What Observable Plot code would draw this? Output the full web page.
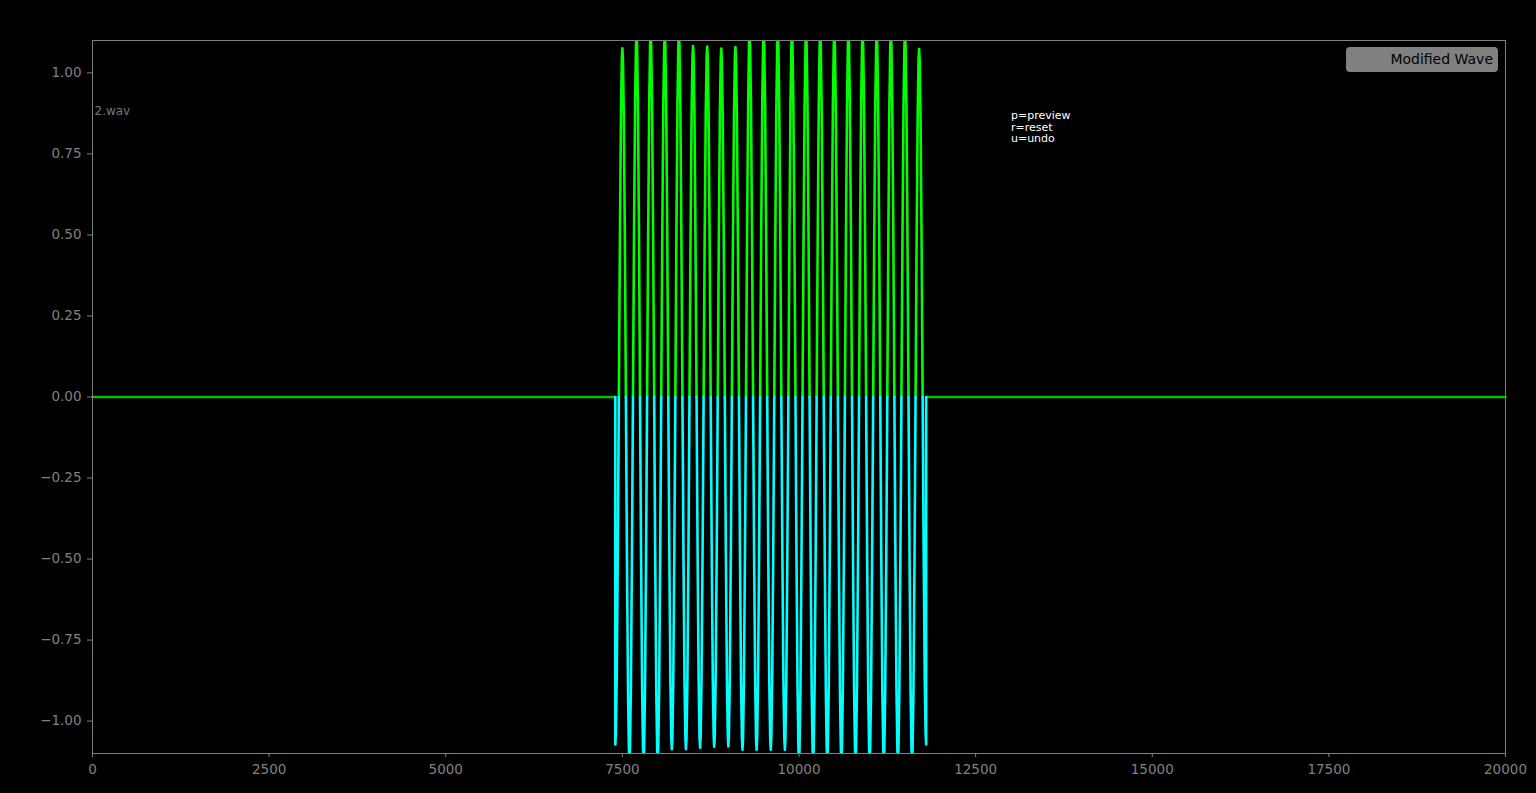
<!DOCTYPE html>
<html><head><meta charset="utf-8">
<script src="https://cdn.jsdelivr.net/npm/d3@7"></script>
<script src="https://cdn.jsdelivr.net/npm/@observablehq/plot@0.6"></script>
<style>
html,body{margin:0;padding:0;background:#000;overflow:hidden}
#wrap{position:relative;width:1536px;height:793px}
#legend{position:absolute;z-index:2;left:1346px;top:47px;width:152px;height:25px;background:#808080;border-radius:4px;box-sizing:border-box;font:14px "DejaVu Sans";color:#000;text-align:right;padding-right:5px;line-height:24px}
</style></head><body><div id="wrap"><div id="legend">Modified Wave</div></div>
<script>
// ---- data ----
const waveStart = 7400, waveEnd = 11800, halfCycle = 100;
const greenPeakX = [7500,7700,7900,8100,8300,8500,8700,8900,9100,9300,9500,9700,9900,10100,10300,10500,10700,10900,11100,11300,11500,11700];
const greenPeakY = [1.076,1.12,1.12,1.12,1.12,1.083,1.081,1.075,1.080,1.12,1.12,1.12,1.12,1.12,1.12,1.12,1.12,1.12,1.12,1.12,1.12,1.074];
const cyanTroughX = [7400,7600,7800,8000,8200,8400,8600,8800,9000,9200,9400,9600,9800,10000,10200,10400,10600,10800,11000,11200,11400,11600,11800];
const cyanTroughY = [-1.072,-1.12,-1.12,-1.12,-1.087,-1.087,-1.082,-1.079,-1.078,-1.088,-1.088,-1.088,-1.088,-1.12,-1.12,-1.12,-1.12,-1.12,-1.12,-1.12,-1.12,-1.12,-1.072];
const pulseProfile = [[-1,0],[-0.7,0.45],[-0.4,0.81],[-0.15,0.97],[0,1],[0.15,0.97],[0.4,0.81],[0.7,0.45],[1,0]];
const xTicks = [0,2500,5000,7500,10000,12500,15000,17500,20000];
const yTicks = [-1,-0.75,-0.5,-0.25,0,0.25,0.5,0.75,1];
const fileLabel = "2.wav";
const helpText = "p=preview\nr=reset\nu=undo";

// ---- build line rows ----
const greenRows = [];
greenPeakX.forEach((px, i) => {
  pulseProfile.forEach(([t, f]) => greenRows.push({id: "g" + i, x: px + t * halfCycle / 2, y: f * greenPeakY[i]}));
});
const cyanRows = [];
cyanTroughX.forEach((px, i) => {
  const pts = [];
  pulseProfile.forEach(([t, f]) => {
    const x = px + t * halfCycle / 2;
    if (x >= waveStart && x <= waveEnd) pts.push({id: "c" + i, x, y: f * cyanTroughY[i]});
  });
  if (px === waveStart) pts.unshift({id: "c" + i, x: waveStart, y: 0});
  if (px === waveEnd) pts.push({id: "c" + i, x: waveEnd, y: 0});
  cyanRows.push(...pts);
});
const flatRows = [
  {id: "L", x: 0, y: 0}, {id: "L", x: waveStart, y: 0},
  {id: "R", x: waveEnd, y: 0}, {id: "R", x: 20000, y: 0}
];

const fmtY = d => d.toFixed(2).replace("-", "\u2212");

const chart = Plot.plot({
  width: 1536, height: 793,
  marginLeft: 92, marginRight: 31, marginTop: 40, marginBottom: 40,
  style: {background: "#000", fontFamily: "DejaVu Sans", fontSize: "13.5px", color: "#808080"},
  x: {domain: [0, 20000]},
  y: {domain: [-1.1, 1.1]},
  marks: [
    Plot.line(flatRows, {x: "x", y: "y", z: "id", stroke: "#00c000", strokeWidth: 2.5}),
    Plot.line(greenRows, {x: "x", y: "y", z: "id", stroke: "#00ff00", strokeWidth: 2.6, clip: true}),
    Plot.line(cyanRows, {x: "x", y: "y", z: "id", stroke: "#00ffff", strokeWidth: 2.6, clip: true}),
    Plot.frame({stroke: "#808080"}),
    Plot.axisY({ticks: yTicks, tickFormat: fmtY, tickSize: 5, tickPadding: 6, label: null, stroke: "#808080", fill: "#808080"}),
    Plot.axisX({ticks: xTicks, tickFormat: d => String(d), tickSize: 4, tickPadding: 7, label: null, stroke: "#808080", fill: "#808080"}),
    Plot.text([fileLabel], {x: 0, y: 0.88, text: d => d, dx: 2, dy: -1, textAnchor: "start", lineAnchor: "middle", fontSize: 12, fill: "#777"}),
    Plot.text([helpText], {x: 13000, y: 0.88, text: d => d, dy: -1, textAnchor: "start", lineAnchor: "top", fontSize: 11, lineHeight: 1.05, fill: "#fff"})
  ]
});
document.getElementById("wrap").appendChild(chart);
</script>
</body></html>
